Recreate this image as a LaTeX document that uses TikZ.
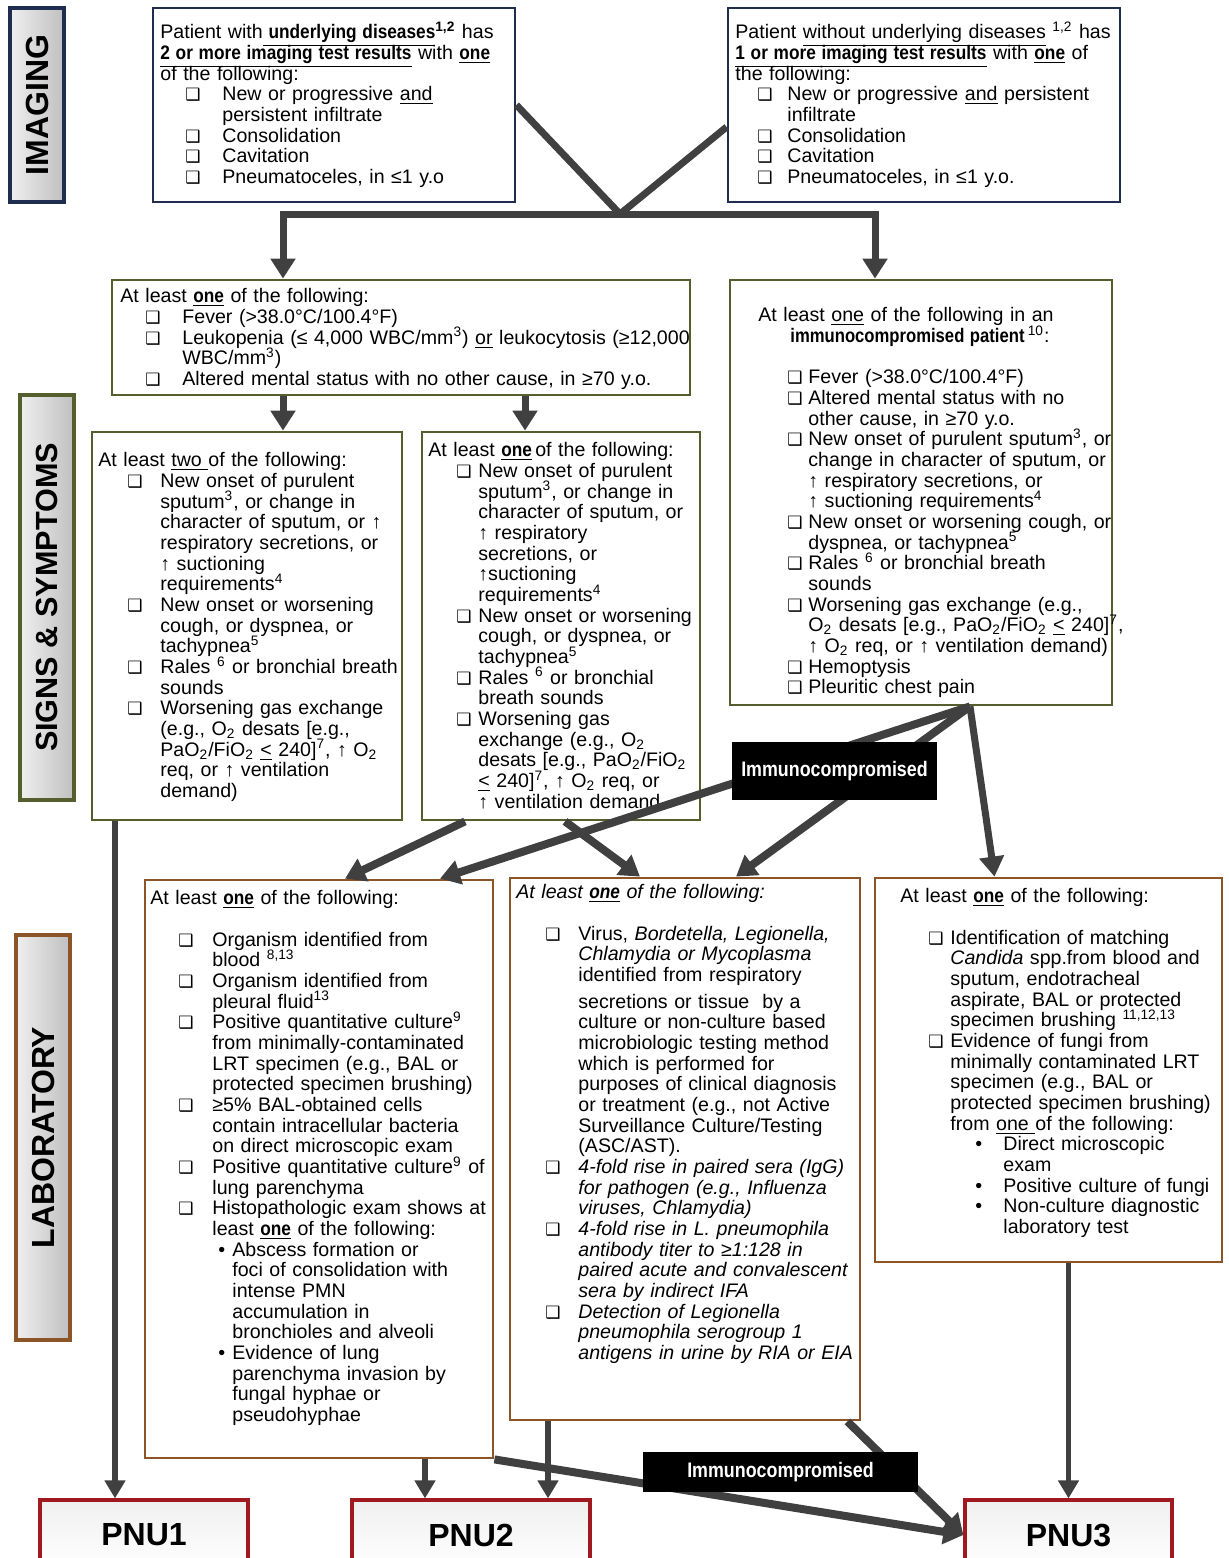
\documentclass[tikz,border=0pt]{standalone}
\usepackage{fontspec}
\setmainfont{Liberation Sans}
\newfontfamily\symfont{DejaVu Sans}
\usepackage{graphicx}
\usetikzlibrary{arrows.meta,fit,positioning}
\setlength{\parindent}{0pt}
\setlength{\parskip}{0pt}

\definecolor{navy}{RGB}{30,45,80}
\definecolor{olive}{RGB}{85,95,45}
\definecolor{brownb}{RGB}{140,85,40}
\definecolor{pnured}{RGB}{160,25,30}
\definecolor{connc}{RGB}{64,64,64}

\newcommand{\bodyfont}{\fontsize{9.8}{10.33}\selectfont\lineskiplimit=-\maxdimen\lineskip=0pt\parskip=0pt}
\newcommand{\ckmark}{{\symfont\fontsize{8.5}{8.5}\selectfont ❑}}
\newcommand{\ulbold}[1]{\scalebox{0.88}[1]{\textbf{\underline{#1}}}}
\newcommand{\sups}[1]{\smash{\textsuperscript{#1}}}
\newcommand{\subs}[1]{\smash{\textsubscript{#1}}}
\newlength\ckindent \newlength\ckwidth \newlength\buindent \newlength\buwidth
\newcommand{\chkitem}[1]{\par\hangindent=\dimexpr\ckindent+\ckwidth\relax\hangafter=1\noindent\hspace*{\ckindent}\makebox[\ckwidth][l]{\ckmark}{\let\\\newline #1}}
\newcommand{\bulitem}[1]{\par\hangindent=\dimexpr\buindent+\buwidth\relax\hangafter=1\noindent\hspace*{\buindent}\makebox[\buwidth][l]{•}{\let\\\newline #1}}

\tikzset
{
    imgbox/.style  = {draw=navy, line width=1.4pt, fill=white, inner sep=0pt},
    symbox/.style  = {draw=olive, line width=1.4pt, fill=white, inner sep=0pt},
    labbox/.style  = {draw=brownb, line width=1.4pt, fill=white, inner sep=0pt},
    sidebox/.style = {line width=1.8pt, left color=gray!12, right color=gray!50, inner sep=0pt, minimum width=27pt, font=\fontsize{16}{16}\selectfont\bfseries},
    txt/.style     = {anchor=north west, inner sep=0pt, text width=320pt, align=left, font=\bodyfont},
    pnubox/.style  = {draw=pnured, line width=1.6pt, top color=gray!12, bottom color=white, minimum height=35pt, font=\fontsize{16}{16}\selectfont\bfseries},
    immbox/.style  = {fill=black, text=white, font=\fontsize{10.5}{10.5}\selectfont\bfseries},
    conn/.style    = {draw=connc, line width=3.5pt},
    arr/.style     = {conn, -{Triangle[width=12pt,length=10pt]}},
    arrw/.style    = {draw=connc, line width=4pt, -{Triangle[width=12pt,length=10pt]}},
    arrb/.style    = {draw=connc, line width=2.6pt, -{Triangle[width=10pt,length=9pt]}}
}

\begin{document}
\begin{tikzpicture}[x=0.5pt, y=-0.5pt]
\fill[white] (0,0) rectangle (1228,1558);
\useasboundingbox (0,0) rectangle (1228,1558);

% side labels
\node[sidebox, draw=navy, minimum height=97pt] (sideimg) at (37,105) {\rotatebox{90}{IMAGING}};
\node[sidebox, draw=olive, minimum height=202.5pt, font=\fontsize{15.3}{15.3}\selectfont\bfseries] (sidesym) at (47,597.5) {\rotatebox{90}{SIGNS \& SYMPTOMS}};
\node[sidebox, draw=brownb, minimum height=202.5pt] (sidelab) at (43,1137.5) {\rotatebox{90}{LABORATORY}};

% boxes
\node[imgbox, fit={(153,8) (515,202)}] (imgA) {};
\node[imgbox, fit={(728,8) (1120,202)}] (imgB) {};
\node[symbox, fit={(112,280) (690,395)}] (symC) {};
\node[symbox, fit={(730,280) (1112,705)}] (symD) {};
\node[symbox, fit={(92,432) (402,820)}] (symE) {};
\node[symbox, fit={(422,432) (700,820)}] (symF) {};
\node[labbox, fit={(145,880) (493,1458)}] (labG) {};
\node[labbox, fit={(510,878) (860,1420)}] (labH) {};
\node[labbox, fit={(875,878) (1222,1262)}] (labI) {};

% texts
\node[txt] (txtA) at (160,24) {\setlength\ckindent{12.5pt}\setlength\ckwidth{18.5pt}%
\strut Patient with\ulbold{ underlying diseases}\sups{\textbf{1,2}} has\\
\ulbold{2 or more imaging test results} with \ulbold{one}\\
of the following:
\chkitem{New or progressive \underline{and}\\persistent infiltrate}
\chkitem{Consolidation}
\chkitem{Cavitation}
\chkitem{Pneumatoceles, in ≤1 y.o}\par};

\node[txt] (txtB) at (735,24) {\setlength\ckindent{11pt}\setlength\ckwidth{15pt}%
\strut Patient \underline{without underlying diseases} \sups{1,2} has\\
\ulbold{1 or more imaging test results} with \ulbold{one} of\\
the following:
\chkitem{New or progressive \underline{and} persistent\\infiltrate}
\chkitem{Consolidation}
\chkitem{Cavitation}
\chkitem{Pneumatoceles, in ≤1 y.o.}\par};

\node[txt] (txtC) at (120,288) {\setlength\ckindent{12.5pt}\setlength\ckwidth{18.5pt}%
\strut At least \ulbold{one} of the following:
\chkitem{Fever (>38.0°C/100.4°F)}
\chkitem{Leukopenia (≤ 4,000 WBC/mm\sups{3}) \underline{or} leukocytosis (≥12,000\\WBC/mm\sups{3})}
\chkitem{Altered mental status with no other cause, in ≥70 y.o.}\par};

\node[txt] (txtD) at (758,307) {\setlength\ckindent{14.5pt}\setlength\ckwidth{10.5pt}%
\strut At least \underline{one} of the following in an\\
\hspace*{16pt}\scalebox{0.85}[1]{\textbf{immunocompromised patient}}\,\sups{10}:\\
\mbox{}
\chkitem{Fever (>38.0°C/100.4°F)}
\chkitem{Altered mental status with no\\other cause, in ≥70 y.o.}
\chkitem{New onset of purulent sputum\sups{3}, or\\change in character of sputum, or\\↑ respiratory secretions, or\\↑ suctioning requirements\sups{4}}
\chkitem{New onset or worsening cough, or\\dyspnea, or tachypnea\sups{5}}
\chkitem{Rales \sups{6} or bronchial breath\\sounds}
\chkitem{Worsening gas exchange (e.g.,\\O\subs{2} desats [e.g., PaO\subs{2}/FiO\subs{2} \underline{<} 240]\sups{7},\\↑ O\subs{2} req, or ↑ ventilation demand)}
\chkitem{Hemoptysis}
\chkitem{Pleuritic chest pain}\par};

\node[txt] (txtE) at (98,452) {\setlength\ckindent{14.5pt}\setlength\ckwidth{16.5pt}%
\strut At least \underline{two }of the following:
\chkitem{New onset of purulent\\sputum\sups{3}, or change in\\character of sputum, or ↑\\respiratory secretions, or\\↑ suctioning\\requirements\sups{4}}
\chkitem{New onset or worsening\\cough, or dyspnea, or\\tachypnea\sups{5}}
\chkitem{Rales \sups{6} or bronchial breath\\sounds}
\chkitem{Worsening gas exchange\\(e.g., O\subs{2} desats [e.g.,\\PaO\subs{2}/FiO\subs{2} \underline{<} 240]\sups{7}, ↑ O\subs{2}\\req, or ↑ ventilation\\demand)}\par};

\node[txt] (txtF) at (428,442) {\setlength\ckindent{14pt}\setlength\ckwidth{11pt}%
\strut At least \ulbold{one}\,of the following:
\chkitem{New onset of purulent\\sputum\sups{3}, or change in\\character of sputum, or\\↑ respiratory\\secretions, or\\↑suctioning\\requirements\sups{4}}
\chkitem{New onset or worsening\\cough, or dyspnea, or\\tachypnea\sups{5}}
\chkitem{Rales \sups{6} or bronchial\\breath sounds}
\chkitem{Worsening gas\\exchange (e.g., O\subs{2}\\desats [e.g., PaO\subs{2}/FiO\subs{2}\\\underline{<} 240]\sups{7}, ↑ O\subs{2} req, or\\↑ ventilation demand}\par};

\node[txt] (txtG) at (150,890) {\setlength\ckindent{14pt}\setlength\ckwidth{17pt}\setlength\buindent{34pt}\setlength\buwidth{7pt}%
\strut At least \ulbold{one} of the following:\\
\mbox{}
\chkitem{Organism identified from\\blood \sups{8,13}}
\chkitem{Organism identified from\\pleural fluid\sups{13}}
\chkitem{Positive quantitative culture\sups{9}\\from minimally-contaminated\\LRT specimen (e.g., BAL or\\protected specimen brushing)}
\chkitem{≥5\% BAL-obtained cells\\contain intracellular bacteria\\on direct microscopic exam}
\chkitem{Positive quantitative culture\sups{9} of\\lung parenchyma}
\chkitem{Histopathologic exam shows at\\least \ulbold{one} of the following:}
\bulitem{Abscess formation or\\foci of consolidation with\\intense PMN\\accumulation in\\bronchioles and alveoli}
\bulitem{Evidence of lung\\parenchyma invasion by\\fungal hyphae or\\pseudohyphae}\par};

\node[txt] (txtH) at (516,884) {\setlength\ckindent{14.5pt}\setlength\ckwidth{16.5pt}%
\strut\textit{At least \ulbold{one} of the following:}\\
\mbox{}
\chkitem{Virus, \textit{Bordetella, Legionella,}\\\textit{Chlamydia or Mycoplasma}\\identified from respiratory\vadjust{\vskip 3pt}\\secretions or tissue\ \ by a\\culture or non-culture based\\microbiologic testing method\\which is performed for\\purposes of clinical diagnosis\\or treatment (e.g., not Active\\Surveillance Culture/Testing\\(ASC/AST).}
\chkitem{\itshape 4-fold rise in paired sera (IgG)\\for pathogen (e.g., Influenza\\viruses, Chlamydia)}
\chkitem{\itshape 4-fold rise in L. pneumophila\\antibody titer to ≥1:128 in\\paired acute and convalescent\\sera by indirect IFA}
\chkitem{\itshape Detection of Legionella\\pneumophila serogroup 1\\antigens in urine by RIA or EIA}\par};

\node[txt] (txtI) at (900,888) {\setlength\ckindent{14pt}\setlength\ckwidth{11pt}\setlength\buindent{37.5pt}\setlength\buwidth{14pt}%
\strut At least \ulbold{one} of the following:\\
\mbox{}
\chkitem{Identification of matching\\\textit{Candida} spp.from blood and\\sputum, endotracheal\\aspirate, BAL or protected\\specimen brushing \sups{11,12,13}}
\chkitem{Evidence of fungi from\\minimally contaminated LRT\\specimen (e.g., BAL or\\protected specimen brushing)\\from \underline{one }of the following:}
\bulitem{Direct microscopic\\exam}
\bulitem{Positive culture of fungi}
\bulitem{Non-culture diagnostic\\laboratory test}\par};

% outcomes
\node[pnubox, minimum width=104pt] (pnu1) at (144,1535) {PNU1};
\node[pnubox, minimum width=119pt] (pnu2) at (471,1535) {PNU2};
\node[pnubox, minimum width=103.5pt] (pnu3) at (1068.5,1535) {PNU3};

% imaging -> signs
\coordinate (apex) at (620,214);
\draw[conn] (imgA.east) -- (apex);
\draw[conn] ([yshift=-11pt]imgB.west) -- (apex);
\draw[arr] (apex) -| ([xshift=-59pt]symC.north);
\draw[arr] (apex) -| ([xshift=-23pt]symD.north);
\draw[arr] ([xshift=-59pt]symC.south) -- ([xshift=18pt]symE.north);
\draw[arr] ([xshift=62pt]symC.south) -- ([xshift=-18pt]symF.north);

% signs -> laboratory
\coordinate (hub) at ([xshift=24.5pt]symD.south);
\draw[arrw] (hub) -- ([xshift=60.5pt]labG.north);
\draw[arrw] (hub) -- ([xshift=25.5pt]labH.north);
\draw[arr] (hub) -- ([xshift=-27pt]labI.north);
\draw[arrw] ([xshift=-48pt]symF.south) -- ([xshift=13pt]labG.north);
\draw[arrw] ([xshift=2pt]symF.south) -- ([xshift=-22.5pt]labH.north);

% -> outcomes
\draw[arrb] ([xshift=-66pt]symE.south) -- ([xshift=-14.5pt]pnu1.north);
\draw[arrb] ([xshift=53pt]labG.south) -- ([xshift=-23pt]pnu2.north);
\draw[arrb] ([xshift=-68.5pt]labH.south) -- ([xshift=38.5pt]pnu2.north);
\draw[arrb] ([xshift=10pt]labI.south) -- (pnu3.north);
\draw[arrw] (labG.south east) -- (pnu3.west);
\draw[arrw] ([xshift=-7pt]labH.south east) -- (pnu3.west);

% immunocompromised tags
\node[immbox, minimum width=102.5pt, minimum height=29pt] (immup) at (834.5,771) {\scalebox{0.85}[1]{Immunocompromised}};
\node[immbox, minimum width=137.5pt, minimum height=20pt] (immlow) at (780.5,1472) {\scalebox{0.85}[1]{Immunocompromised}};
\end{tikzpicture}
\end{document}
